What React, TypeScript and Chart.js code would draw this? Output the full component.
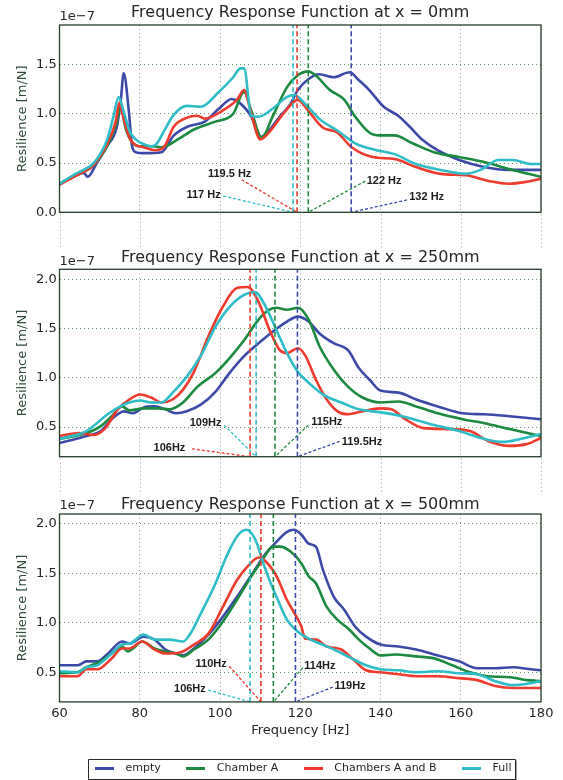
import React, { useEffect, useRef } from 'react';
import { Chart, registerables } from 'chart.js';

Chart.register(...registerables);

// ---------------- data ----------------
const SERIES_NAMES = ['empty', 'Chamber A', 'Chambers A and B', 'Full'];
const X_TICKS = [60, 80, 100, 120, 140, 160, 180];
const OFFSET_LABEL = '1e\u22127';
const PANEL_TITLES = [
  'Frequency Response Function at x = 0mm',
  'Frequency Response Function at x = 250mm',
  'Frequency Response Function at x = 500mm',
];
const Y_RANGES = [
  [0, 1.9],
  [0.2, 2.1],
  [0.2, 2.1],
];

// Panel 1: x = 0mm  (values in 1e-7 m/N)
const p0EmptyF = [60, 64.3, 66, 67, 69.3, 71.8, 74.3, 75.3, 76, 77.25, 78.1, 79, 81, 85.4, 88.5, 92, 96.2, 99.7, 102.9, 104.6, 107.8, 110, 111.8, 114.9, 117.6, 119.4, 122, 124.7, 128.3, 132.3, 134.6, 137.2, 140.8, 144.4, 147, 150.6, 154.2, 159.6, 165.8, 172, 180];
const p0EmptyV = [0.28, 0.38, 0.40, 0.36, 0.50, 0.67, 0.87, 1.15, 1.41, 1.04, 0.67, 0.61, 0.60, 0.61, 0.78, 0.87, 0.92, 1.05, 1.15, 1.12, 0.97, 0.76, 0.81, 0.97, 1.10, 1.24, 1.35, 1.40, 1.37, 1.42, 1.34, 1.24, 1.07, 0.98, 0.88, 0.73, 0.63, 0.53, 0.46, 0.43, 0.43];
const p0ChamberAF = [60, 64, 66, 68, 70, 72, 74, 75.3, 76.5, 78.3, 80, 83, 85.4, 89.9, 93.5, 98.8, 103.3, 106, 107.8, 110.4, 113.1, 116.7, 119.4, 122, 123.8, 127.4, 131, 133.7, 137.2, 139.9, 143.5, 148, 153.3, 159.6, 165.8, 172, 180];
const p0ChamberAV = [0.29, 0.37, 0.41, 0.46, 0.55, 0.68, 0.88, 1.06, 0.85, 0.70, 0.67, 0.67, 0.66, 0.75, 0.84, 0.92, 1.00, 1.22, 1.03, 0.76, 0.97, 1.27, 1.39, 1.43, 1.39, 1.24, 1.14, 0.97, 0.81, 0.78, 0.78, 0.70, 0.61, 0.56, 0.51, 0.44, 0.36];
const p0ChambersABF = [60, 64, 66, 68, 70, 72, 74, 74.9, 76, 77.5, 79, 81, 83.75, 86, 88.5, 91.8, 94.3, 96.2, 100.6, 104.2, 106, 107.8, 110, 112.2, 115.8, 119.4, 122, 125.6, 129.2, 132.8, 138.1, 143.5, 148.8, 155, 161.3, 166.7, 172, 176.5, 180];
const p0ChambersABV = [0.28, 0.37, 0.41, 0.46, 0.56, 0.70, 0.92, 1.11, 0.95, 0.75, 0.68, 0.66, 0.63, 0.66, 0.87, 0.96, 0.98, 0.95, 1.03, 1.14, 1.24, 1.00, 0.74, 0.81, 1.00, 1.14, 1.03, 0.86, 0.81, 0.66, 0.56, 0.54, 0.46, 0.39, 0.375, 0.32, 0.29, 0.31, 0.34];
const p0FullF = [60, 64, 66, 68, 70, 72, 73.5, 74.75, 76, 77.5, 79, 81, 83, 84.3, 86, 88.5, 91.8, 95.2, 99.7, 103.3, 105.1, 106, 107.8, 109.6, 113.1, 116.7, 118.5, 121.2, 124.7, 129.2, 133.7, 139, 143.5, 148.8, 155, 161.3, 164.9, 169.4, 173, 177.5, 180];
const p0FullV = [0.29, 0.39, 0.43, 0.48, 0.58, 0.75, 0.98, 1.17, 1.02, 0.82, 0.74, 0.69, 0.67, 0.70, 0.82, 0.99, 1.08, 1.07, 1.22, 1.37, 1.46, 1.46, 0.98, 0.97, 1.05, 1.17, 1.19, 1.10, 0.95, 0.83, 0.70, 0.63, 0.59, 0.49, 0.43, 0.39, 0.43, 0.53, 0.53, 0.49, 0.49];
const p0MarkerF = [132.7, 122.0, 119.2, 118.2];
const p0MarkerText = ['132 Hz', '122 Hz', '119.5 Hz', '117 Hz'];
const p0LabelF = [151.5, 140.9, 102.4, 95.9];
const p0LabelV = [0.16, 0.32, 0.39, 0.18];
const p0LeadF = [146.6, 136.2, 105.4, 100.8];
const p0LeadV = [0.125, 0.316, 0.33, 0.165];

// Panel 2: x = 250mm
const p1EmptyF = [60, 63.1, 66.7, 70.3, 73, 76.1, 78.3, 81, 83.7, 86.4, 89, 91.7, 95.3, 98.9, 102.4, 106, 109.6, 113.2, 116.7, 119.4, 122.1, 124.8, 128.4, 131.9, 134.6, 137.3, 140, 144.5, 148.9, 154.3, 160.5, 165.9, 172.2, 180];
const p1EmptyV = [0.34, 0.37, 0.41, 0.46, 0.58, 0.66, 0.64, 0.70, 0.71, 0.68, 0.64, 0.66, 0.73, 0.86, 1.05, 1.22, 1.35, 1.47, 1.57, 1.62, 1.57, 1.45, 1.35, 1.28, 1.10, 0.98, 0.87, 0.85, 0.78, 0.71, 0.64, 0.63, 0.61, 0.58];
const p1ChamberAF = [60, 66.7, 70.3, 73, 75.6, 77.4, 81, 84.6, 87.3, 90.8, 94.4, 98.9, 102.4, 106, 109.6, 112.3, 114, 116.7, 119.4, 122.1, 124.8, 128.4, 131.9, 135.5, 140, 144.5, 148.9, 154.3, 160.5, 165.9, 172.2, 180];
const p1ChamberAV = [0.38, 0.44, 0.51, 0.61, 0.71, 0.67, 0.69, 0.69, 0.68, 0.75, 0.91, 1.05, 1.20, 1.38, 1.59, 1.69, 1.71, 1.69, 1.71, 1.59, 1.32, 1.08, 0.91, 0.80, 0.75, 0.76, 0.71, 0.64, 0.58, 0.54, 0.48, 0.41];
const p1ChambersABF = [60, 64.9, 68.4, 71.2, 74.7, 77.4, 80.1, 82.8, 85.5, 88.2, 90.8, 93.5, 97.1, 100.7, 104.2, 106.9, 109.6, 112.3, 114.9, 116.7, 119.4, 121.2, 123.9, 126.6, 129.3, 131.9, 135.5, 140, 142.7, 146.2, 150.7, 157, 162.3, 166.8, 172.2, 176.6, 180];
const p1ChambersABV = [0.41, 0.44, 0.42, 0.48, 0.69, 0.78, 0.83, 0.80, 0.75, 0.78, 0.88, 1.06, 1.42, 1.72, 1.91, 1.92, 1.77, 1.49, 1.28, 1.25, 1.30, 1.23, 0.98, 0.78, 0.66, 0.63, 0.66, 0.69, 0.68, 0.58, 0.49, 0.48, 0.46, 0.36, 0.31, 0.33, 0.39];
const p1FullF = [60, 66.7, 72, 75.6, 77.4, 80.1, 82.8, 85.5, 88.2, 91.7, 95.3, 98.9, 102.4, 106, 108.7, 111.4, 114, 116.7, 119.4, 122.1, 125.7, 130.2, 134.6, 140, 145.4, 152.5, 159.6, 165, 170.4, 174.8, 180];
const p1FullV = [0.38, 0.46, 0.63, 0.72, 0.75, 0.77, 0.75, 0.75, 0.85, 1.01, 1.23, 1.52, 1.72, 1.84, 1.87, 1.72, 1.49, 1.25, 1.06, 0.95, 0.83, 0.75, 0.68, 0.65, 0.61, 0.53, 0.46, 0.39, 0.35, 0.38, 0.43];
const p1MarkerF = [119.3, 113.7, 107.5, 109.0];
const p1MarkerText = ['119.5Hz', '115Hz', '106Hz', '109Hz'];
const p1LabelF = [135.4, 126.6, 87.4, 96.4];
const p1LabelV = [0.35, 0.55, 0.29, 0.54];
const p1LeadF = [129.8, 122.0, 93.0, 101.0];
const p1LeadV = [0.355, 0.52, 0.28, 0.52];

// Panel 3: x = 500mm
const p2EmptyF = [60, 62.2, 64.5, 66.7, 69.4, 72.1, 75.6, 77.4, 81, 83.7, 86.4, 89, 90.8, 93.5, 97.1, 100.7, 104.2, 107.8, 111.4, 114.1, 116.7, 118.5, 120.3, 122.1, 123.9, 125.7, 128.4, 131, 133.7, 136.4, 140, 144.5, 148.9, 154.3, 159.6, 164.1, 168.6, 173, 177.5, 180];
const p2EmptyV = [0.57, 0.57, 0.57, 0.61, 0.61, 0.69, 0.81, 0.79, 0.86, 0.83, 0.73, 0.69, 0.67, 0.74, 0.88, 1.06, 1.26, 1.48, 1.70, 1.82, 1.92, 1.94, 1.89, 1.80, 1.77, 1.53, 1.26, 1.13, 0.96, 0.86, 0.78, 0.76, 0.73, 0.67, 0.61, 0.54, 0.54, 0.55, 0.53, 0.52];
const p2ChamberAF = [60, 64.5, 66.7, 70.3, 73, 75.6, 77, 78.3, 80.6, 83.7, 86.4, 89, 90.8, 93.5, 97.1, 100.7, 104.2, 107.8, 110.5, 113.2, 115, 117.6, 120.3, 122.1, 123.9, 126.6, 129.3, 132, 134.6, 137.3, 140, 143.6, 148.9, 153.4, 157.9, 162.3, 166.8, 172.2, 176.6, 180];
const p2ChamberAV = [0.49, 0.50, 0.55, 0.61, 0.69, 0.76, 0.71, 0.74, 0.81, 0.74, 0.71, 0.69, 0.66, 0.73, 0.83, 1.01, 1.23, 1.47, 1.63, 1.77, 1.77, 1.72, 1.60, 1.47, 1.40, 1.16, 1.03, 0.94, 0.83, 0.74, 0.67, 0.68, 0.66, 0.64, 0.57, 0.50, 0.46, 0.45, 0.42, 0.41];
const p2ChambersABF = [60, 64.5, 66.7, 69.4, 73, 75.6, 77.4, 80.6, 83.7, 86.4, 90, 93.5, 97.1, 100.7, 104.2, 106.9, 109.6, 111.4, 114.1, 116.7, 118.5, 120.3, 121.2, 123.9, 126.6, 130.2, 133.7, 136.4, 140, 144.5, 148.9, 154.3, 159.6, 164.1, 168.6, 173, 180];
const p2ChambersABV = [0.46, 0.46, 0.53, 0.53, 0.64, 0.74, 0.74, 0.81, 0.73, 0.69, 0.70, 0.78, 0.89, 1.16, 1.43, 1.57, 1.66, 1.62, 1.47, 1.23, 1.10, 0.96, 0.84, 0.83, 0.76, 0.73, 0.61, 0.52, 0.50, 0.48, 0.46, 0.46, 0.44, 0.42, 0.36, 0.34, 0.34];
const p2FullF = [60, 64.5, 66.7, 69.4, 73, 75.6, 77.4, 81, 83.7, 87.3, 90.8, 92.6, 95.3, 98.9, 101.6, 104.2, 106.5, 108.7, 111.4, 114.1, 116.7, 119.4, 122.1, 124.8, 128.4, 132.8, 136.4, 140, 144.5, 148.9, 154.3, 159.6, 164.1, 168.6, 173, 177.5, 180];
const p2FullV = [0.51, 0.50, 0.55, 0.57, 0.69, 0.78, 0.79, 0.88, 0.83, 0.83, 0.81, 0.89, 1.10, 1.40, 1.67, 1.87, 1.94, 1.85, 1.53, 1.26, 1.03, 0.91, 0.84, 0.79, 0.73, 0.64, 0.57, 0.53, 0.52, 0.50, 0.51, 0.49, 0.48, 0.41, 0.37, 0.39, 0.41];
const p2MarkerF = [118.8, 113.3, 110.2, 107.5];
const p2MarkerText = ['119Hz', '114Hz', '110Hz', '106Hz'];
const p2LabelF = [132.4, 124.9, 97.8, 92.5];
const p2LabelV = [0.36, 0.56, 0.585, 0.33];
const p2LeadF = [128.1, 120.6, 102.3, 97.1];
const p2LeadV = [0.35, 0.545, 0.56, 0.32];

const PANELS = [
  { freqs: [p0EmptyF, p0ChamberAF, p0ChambersABF, p0FullF], vals: [p0EmptyV, p0ChamberAV, p0ChambersABV, p0FullV], markerF: p0MarkerF, markerText: p0MarkerText, labelF: p0LabelF, labelV: p0LabelV, leadF: p0LeadF, leadV: p0LeadV },
  { freqs: [p1EmptyF, p1ChamberAF, p1ChambersABF, p1FullF], vals: [p1EmptyV, p1ChamberAV, p1ChambersABV, p1FullV], markerF: p1MarkerF, markerText: p1MarkerText, labelF: p1LabelF, labelV: p1LabelV, leadF: p1LeadF, leadV: p1LeadV },
  { freqs: [p2EmptyF, p2ChamberAF, p2ChambersABF, p2FullF], vals: [p2EmptyV, p2ChamberAV, p2ChambersABV, p2FullV], markerF: p2MarkerF, markerText: p2MarkerText, labelF: p2LabelF, labelV: p2LabelV, leadF: p2LeadF, leadV: p2LeadV },
];

// ---------------- styles / layout ----------------
const SERIES_COLORS = ['#3d49a8', '#1b8a3e', '#ef3b2d', '#2ebdc8'];
const FRAME_COLOR = '#263d28';
const X_GRID_COLOR = '#9a9a9a';
const Y_GRID_COLOR = '#5e9c62';
const TEXT_COLOR = '#262626';
const YLABEL_COLOR = '#2d4a37';
const FONT = '"DejaVu Sans", sans-serif';

const LAYOUT = [
  { top: 0, height: 255, padBottom: 42.7, titlePad: { top: 5.3, bottom: 3.7 }, bottom: false },
  { top: 245, height: 255, padBottom: 43.3, titlePad: { top: 5.3, bottom: 3.0 }, bottom: false },
  { top: 490, height: 294, padBottom: 0, titlePad: { top: 6.7, bottom: 1.3 }, bottom: true },
];

function makeSwatch(color: string) {
  const c = document.createElement('canvas');
  c.width = 19;
  c.height = 3;
  const g = c.getContext('2d')!;
  g.fillStyle = color;
  g.fillRect(0, 0, 19, 3);
  return c;
}

function buildConfig(pi: number, swatches: HTMLCanvasElement[]): any {
  const panel = PANELS[pi];
  const lay = LAYOUT[pi];
  const [yMin, yMax] = Y_RANGES[pi];

  const datasets: any[] = [];
  for (let i = 0; i < 4; i++) {
    datasets.push({
      label: SERIES_NAMES[i],
      data: panel.freqs[i].map((f, k) => ({ x: f, y: panel.vals[i][k] })),
      borderColor: SERIES_COLORS[i],
      backgroundColor: SERIES_COLORS[i],
      borderWidth: 2.6,
      pointRadius: 0,
      cubicInterpolationMode: 'monotone',
      order: 4 - i + 1,
    });
  }
  for (let i = 0; i < 4; i++) {
    datasets.push({
      label: 'marker' + i,
      data: [
        { x: panel.markerF[i], y: yMin },
        { x: panel.markerF[i], y: yMax },
      ],
      borderColor: SERIES_COLORS[i],
      borderWidth: 1.6,
      borderDash: [5, 3],
      pointRadius: 0,
      order: 0,
    });
    datasets.push({
      label: 'leader' + i,
      data: [
        { x: panel.leadF[i], y: panel.leadV[i] },
        { x: panel.markerF[i], y: yMin },
      ],
      borderColor: SERIES_COLORS[i],
      borderWidth: 1.3,
      borderDash: [3, 2],
      pointRadius: 0,
      order: 0,
    });
  }

  const decor = {
    id: 'decor' + pi,
    afterDatasetsDraw(chart: any) {
      const { ctx, chartArea: a, scales } = chart;
      const xs = scales.x;
      const ys = scales.y;
      ctx.save();
      ctx.font = 'bold 11px "Liberation Sans", Arial, sans-serif';
      ctx.fillStyle = '#1c1c1c';
      ctx.textAlign = 'center';
      ctx.textBaseline = 'middle';
      panel.markerText.forEach((t, i) => {
        ctx.fillText(t, xs.getPixelForValue(panel.labelF[i]), ys.getPixelForValue(panel.labelV[i]));
      });
      ctx.strokeStyle = FRAME_COLOR;
      ctx.lineWidth = 1.3;
      ctx.setLineDash([]);
      ctx.strokeRect(a.left, a.top, a.right - a.left, a.bottom - a.top);
      ctx.font = '13px ' + FONT;
      ctx.fillStyle = TEXT_COLOR;
      ctx.textAlign = 'left';
      ctx.fillText(OFFSET_LABEL, a.left, a.top - 8);
      ctx.restore();
    },
    afterDraw(chart: any) {
      const { ctx, chartArea: a, scales } = chart;
      ctx.save();
      if (!lay.bottom) {
        ctx.strokeStyle = X_GRID_COLOR;
        ctx.lineWidth = 1;
        ctx.setLineDash([1, 3]);
        X_TICKS.forEach((v) => {
          const px = Math.round(scales.x.getPixelForValue(v)) + 0.5;
          ctx.beginPath();
          ctx.moveTo(px, a.bottom + 2);
          ctx.lineTo(px, chart.height - 5);
          ctx.stroke();
        });
      } else if (chart.legend && chart.legend.legendHitBoxes && chart.legend.legendHitBoxes.length) {
        const hb = chart.legend.legendHitBoxes;
        const first = hb[0];
        const last = hb[hb.length - 1];
        const x1 = first.left - 1.5;
        const x2 = last.left + last.width + 3;
        const yc = first.top + first.height / 2;
        const y1 = yc - 10;
        const y2 = yc + 10;
        ctx.setLineDash([]);
        ctx.strokeStyle = '#9a9a9a';
        ctx.lineWidth = 2;
        ctx.beginPath();
        ctx.moveTo(x2 + 1.5, y1 + 2);
        ctx.lineTo(x2 + 1.5, y2 + 1.5);
        ctx.lineTo(x1 + 2, y2 + 1.5);
        ctx.stroke();
        ctx.strokeStyle = '#2a2a2a';
        ctx.lineWidth = 1;
        ctx.beginPath();
        ctx.rect(Math.round(x1) + 0.5, Math.round(y1) + 0.5, Math.round(x2 - x1), Math.round(y2 - y1));
        ctx.stroke();
      }
      ctx.restore();
    },
  };

  return {
    type: 'line',
    data: { datasets },
    plugins: [decor],
    options: {
      responsive: false,
      animation: false,
      devicePixelRatio: 1,
      events: [],
      layout: { padding: { left: 0, right: 22, top: 0, bottom: lay.padBottom } },
      plugins: {
        tooltip: { enabled: false },
        title: {
          display: true,
          text: PANEL_TITLES[pi],
          fullSize: false,
          color: TEXT_COLOR,
          font: { family: FONT, size: 16, weight: 'normal', lineHeight: 1 },
          padding: lay.titlePad,
        },
        legend: {
          display: lay.bottom,
          position: 'bottom',
          fullSize: false,
          labels: {
            usePointStyle: true,
            pointStyleWidth: 31,
            padding: 19.5,
            color: TEXT_COLOR,
            font: { family: FONT, size: 11 },
            generateLabels: (chart: any) => {
              const base = (Chart.defaults.plugins.legend.labels as any).generateLabels(chart);
              return base
                .filter((it: any) => it.datasetIndex < 4)
                .sort((a: any, b: any) => a.datasetIndex - b.datasetIndex)
                .map((it: any) => ({ ...it, pointStyle: swatches[it.datasetIndex] }));
            },
          },
        },
      },
      scales: {
        x: {
          type: 'linear',
          min: 60,
          max: 180,
          afterFit: (s: any) => {
            s.height = lay.bottom ? 41.6 : 0;
          },
          ticks: {
            display: lay.bottom,
            stepSize: 20,
            padding: 3.8,
            maxRotation: 0,
            autoSkip: false,
            color: TEXT_COLOR,
            font: { family: FONT, size: 13 },
            callback: (v: any) => String(v),
          },
          grid: { color: X_GRID_COLOR, lineWidth: 1, drawTicks: false },
          border: { display: false, dash: [1, 3] },
          title: {
            display: lay.bottom,
            text: 'Frequency [Hz]',
            color: TEXT_COLOR,
            font: { family: FONT, size: 13 },
            padding: { top: 1.8, bottom: 4.8 },
          },
        },
        y: {
          type: 'linear',
          min: yMin,
          max: yMax,
          afterFit: (s: any) => {
            s.width = 59.5;
          },
          ticks: {
            stepSize: 0.5,
            includeBounds: false,
            padding: 2.8,
            color: TEXT_COLOR,
            font: { family: FONT, size: 13 },
            callback: (v: any) => Number(v).toFixed(1),
          },
          grid: { color: Y_GRID_COLOR, lineWidth: 1, drawTicks: false },
          border: { display: false, dash: [1, 3] },
          title: {
            display: true,
            text: 'Resilience [m/N]',
            color: YLABEL_COLOR,
            font: { family: FONT, size: 13 },
            padding: { top: 14.9, bottom: 0 },
          },
        },
      },
    },
  };
}

export default function App() {
  const ref0 = useRef<HTMLCanvasElement>(null);
  const ref1 = useRef<HTMLCanvasElement>(null);
  const ref2 = useRef<HTMLCanvasElement>(null);

  useEffect(() => {
    Chart.defaults.font.family = FONT;
    Chart.defaults.color = TEXT_COLOR;
    const swatches = SERIES_COLORS.map(makeSwatch);
    const refs = [ref0, ref1, ref2];
    const charts = refs.map((r, i) => new Chart(r.current as HTMLCanvasElement, buildConfig(i, swatches)));
    return () => charts.forEach((c) => c.destroy());
  }, []);

  const refs = [ref0, ref1, ref2];
  return (
    <div style={{ position: 'absolute', left: 0, top: 0, width: 563, height: 780, overflow: 'hidden', background: '#ffffff' }}>
      {LAYOUT.map((l, i) => (
        <canvas
          key={i}
          ref={refs[i]}
          width={563}
          height={l.height}
          style={{ position: 'absolute', left: 0, top: l.top, width: 563, height: l.height }}
        />
      ))}
    </div>
  );
}
